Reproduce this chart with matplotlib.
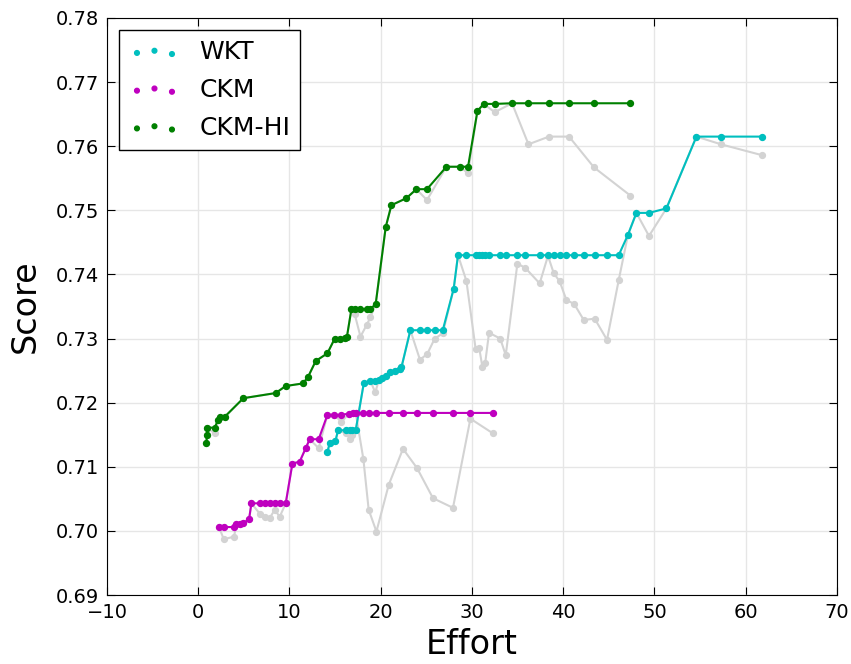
import numpy as np
from matplotlib import pyplot as plt

# WKT
wkt_x = [14.16, 14.41, 15.04, 15.32, 16.24, 16.6, 16.9, 17.26, 18.14, 18.87, 19.4, 19.8,
         20.14, 20.6, 20.99, 21.53, 22.09, 22.27, 23.25, 24.3, 25.1, 25.92, 26.8, 28.0,
         28.47, 29.39, 30.41, 30.8, 31.15, 31.45, 31.87, 33.1, 33.7, 34.98, 35.86, 37.42,
         38.33, 38.96, 39.62, 40.35, 41.2, 42.25, 43.45, 44.8, 46.08, 47.1, 48.02, 49.4,
         51.31, 54.6, 57.29, 61.79]
wkt_y = [0.7123, 0.7137, 0.7140, 0.7157, 0.7152, 0.7144, 0.7150, 0.7157, 0.7230, 0.7234, 0.7216, 0.7235,
         0.7238, 0.7241, 0.7248, 0.7250, 0.7253, 0.7255, 0.7313, 0.7267, 0.7276, 0.7300, 0.7308, 0.7378,
         0.7430, 0.7390, 0.7283, 0.7285, 0.7255, 0.7262, 0.7309, 0.7300, 0.7274, 0.7417, 0.7410, 0.7386,
         0.7429, 0.7402, 0.7389, 0.7360, 0.7354, 0.7329, 0.7331, 0.7298, 0.7391, 0.7462, 0.7496, 0.7460,
         0.7503, 0.7615, 0.7603, 0.7586]

# CKM
ckm_x = [2.28, 2.8, 3.92, 4.19, 4.55, 4.91, 5.57, 5.83, 6.74, 7.29, 7.84, 8.38, 8.93, 9.59,
         10.32, 11.12, 11.78, 12.22, 13.2, 14.16, 14.9, 15.69, 16.53, 16.96, 17.26, 18.1,
         18.68, 19.53, 20.88, 22.44, 23.98, 25.73, 27.92, 29.83, 32.31]
ckm_y = [0.7006, 0.6987, 0.6991, 0.7010, 0.7011, 0.7012, 0.7018, 0.7043, 0.7027, 0.7022, 0.7020, 0.7033, 0.7022, 0.7043,
         0.7105, 0.7108, 0.7129, 0.7143, 0.7129, 0.7181, 0.7181, 0.7170, 0.7183, 0.7184, 0.7184, 0.7112,
         0.7033, 0.6999, 0.7072, 0.7128, 0.7098, 0.7051, 0.7036, 0.7175, 0.7152]

# CKM-HI
hi_x = [0.9, 0.95, 1.0, 1.8, 2.17, 2.43, 2.9, 4.95, 8.49, 9.59, 11.48, 12.03, 12.88, 14.16,
        14.96, 15.5, 16.05, 16.3, 16.79, 17.15, 17.78, 18.45, 18.87, 19.45, 20.55, 21.17,
        22.82, 23.91, 25.07, 27.2, 28.66, 29.57, 30.6, 31.29, 32.49, 34.39, 36.19, 38.44,
        40.64, 43.37, 47.36]
hi_y = [0.7137, 0.7150, 0.7161, 0.7152, 0.7173, 0.7178, 0.7177, 0.7207, 0.7215, 0.7226, 0.7230, 0.7240, 0.7265, 0.7277,
        0.7300, 0.7299, 0.7301, 0.7303, 0.7346, 0.7338, 0.7303, 0.7321, 0.7333, 0.7354, 0.7474, 0.7508,
        0.7519, 0.7533, 0.7516, 0.7568, 0.7568, 0.7558, 0.7655, 0.7666, 0.7653, 0.7667, 0.7603, 0.7615,
        0.7615, 0.7567, 0.7523]

series = [("WKT", wkt_x, wkt_y, "c"), ("CKM", ckm_x, ckm_y, "m"), ("CKM-HI", hi_x, hi_y, "g")]

fig = plt.figure(figsize=(8.51, 6.64), dpi=100)
ax = fig.add_axes([0.1257, 0.1039, 0.8578, 0.8690])

# raw scores in grey underneath
for name, x, y, c in series:
    ax.plot(x, y, color="lightgray", lw=1.5, marker="o", ms=4.2, mec="lightgray", zorder=1)

# best score so far
for name, x, y, c in series:
    best = np.maximum.accumulate(y)
    ax.plot(x, best, color=c, lw=1.5, zorder=2)
    ax.scatter(x, best, color=c, s=18, edgecolors=c, zorder=3, label=name)

ax.set_xlim(-10, 70)
ax.set_ylim(0.69, 0.78)
ax.set_xticks(np.arange(-10, 71, 10))
ax.set_yticks(np.arange(0.69, 0.7801, 0.01))
ax.yaxis.set_major_formatter(plt.FormatStrFormatter("%.2f"))
ax.tick_params(direction="in", top=True, right=True, length=6, labelsize=14, pad=6)
ax.grid(True, color="#e6e6e6", lw=1)
ax.set_axisbelow(True)
ax.set_xlabel("Effort", fontsize=24)
ax.set_ylabel("Score", fontsize=24, labelpad=10)

leg = ax.legend(loc="upper left", scatterpoints=3, scatteryoffsets=[0.375, 0.5, 0.3125],
                fontsize=18, fancybox=False, framealpha=1, edgecolor="black",
                borderaxespad=0.5, handletextpad=0.8, markerscale=0.8, labelspacing=0.55)
leg.get_frame().set_linewidth(1)

fig.savefig("out.png", dpi=100)
